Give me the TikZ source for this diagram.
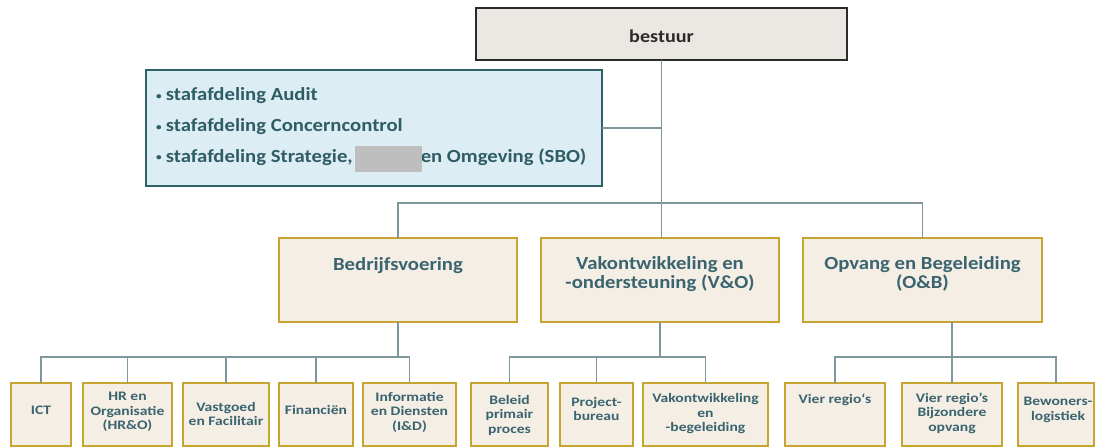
\documentclass[tikz,border=0pt]{standalone}
\usepackage{fontspec}
\setmainfont{Carlito}[FakeStretch=1.12, BoldFeatures={FakeStretch=1.12}]
\newfontfamily\widefont{Carlito}[FakeStretch=1.2, BoldFeatures={FakeStretch=1.2}]
\definecolor{bestuurfill}{HTML}{EBE7E3}
\definecolor{bestuurline}{HTML}{2B2B2B}
\definecolor{staffill}{HTML}{DCEDF3}
\definecolor{stafline}{HTML}{2F6266}
\definecolor{unitfill}{HTML}{F4EEE4}
\definecolor{unitline}{HTML}{C8A430}
\definecolor{connline}{HTML}{7E979C}
\definecolor{unittext}{HTML}{3A6470}
\definecolor{staftext}{HTML}{2F5D66}
\definecolor{redact}{HTML}{BEBEBE}
\newcommand{\smallbul}{\raisebox{1.8pt}{\fontsize{10}{10}\selectfont\textbullet}\hspace{4pt}}
\begin{document}
\begin{tikzpicture}[x=1pt,y=-1pt,
  bestuurbox/.style={draw=bestuurline, line width=2.2pt, fill=bestuurfill, inner sep=0pt, outer sep=0pt},
  stafbox/.style={draw=stafline, line width=2pt, fill=staffill, inner sep=0pt, outer sep=0pt},
  unitbox/.style={draw=unitline, line width=2pt, fill=unitfill, inner sep=0pt, outer sep=0pt},
  midtext/.style={text=unittext, font=\fontsize{18.5}{19}\selectfont\bfseries, align=center, inner sep=0pt},
  smalltext/.style={text=unittext, font=\widefont\fontsize{13}{14.5}\selectfont\bfseries, align=center, inner sep=0pt},
  staftxt/.style={text=staftext, font=\fontsize{18.5}{20}\selectfont\bfseries, anchor=west, inner sep=0pt},
  conn/.style={draw=connline, line width=1.5pt}]
\useasboundingbox (0,0) rectangle (1096,447);
\fill[white] (0,0) rectangle (1096,447);

% top
\node[bestuurbox, minimum width=371pt, minimum height=52pt] (bestuur) at (661.5,34) {};
\node[text=bestuurline, font=\fontsize{18}{20}\selectfont\bfseries, inner sep=0pt] (bestuurt) at (661.5,36) {bestuur};

\node[stafbox, minimum width=456pt, minimum height=116pt] (staf) at (374,128) {};
\node[staftxt] (staf1) at (156,96) {\smallbul stafafdeling Audit};
\node[staftxt] (staf2) at (156,127) {\smallbul stafafdeling Concerncontrol};
\node[staftxt] (staf3) at (156,157) {\smallbul stafafdeling Strategie,\hspace{68pt}en Omgeving (SBO)};
\fill[redact] (355,146) rectangle (422,172);

% middle level
\node[unitbox, minimum width=238pt, minimum height=84pt] (bedr) at (398,280) {};
\node[unitbox, minimum width=238pt, minimum height=84pt] (vo) at (660,280) {};
\node[unitbox, minimum width=239pt, minimum height=84pt] (ob) at (922.5,280) {};
\node[midtext] (bedrt) at (398,266) {Bedrijfsvoering};
\node[midtext] (vot) at (660,274) {Vakontwikkeling en\\-ondersteuning (V\&O)};
\node[midtext] (obt) at (922.5,274) {Opvang en Begeleiding\\(O\&B)};

% bottom level
\node[unitbox, minimum width=60pt, minimum height=63pt] (ict) at (41,414.5) {};
\node[unitbox, minimum width=89pt, minimum height=63pt] (hr) at (127.5,414.5) {};
\node[unitbox, minimum width=86pt, minimum height=63pt] (vast) at (226,414.5) {};
\node[unitbox, minimum width=74pt, minimum height=63pt] (fin) at (316,414.5) {};
\node[unitbox, minimum width=93pt, minimum height=63pt] (info) at (409.5,414.5) {};
\node[unitbox, minimum width=77pt, minimum height=63pt] (bel) at (509.5,414.5) {};
\node[unitbox, minimum width=73pt, minimum height=63pt] (proj) at (596.5,414.5) {};
\node[unitbox, minimum width=125pt, minimum height=63pt] (vak) at (705.5,414.5) {};
\node[unitbox, minimum width=100pt, minimum height=63pt] (vier) at (835,414.5) {};
\node[unitbox, minimum width=100pt, minimum height=63pt] (bijz) at (952,414.5) {};
\node[unitbox, minimum width=76pt, minimum height=63pt] (bew) at (1056,414.5) {};

\node[smalltext] (ictt) at (41,410) {ICT};
\node[smalltext] (hrt) at (127.5,412) {HR en\\Organisatie\\(HR\&O)};
\node[smalltext] (vastt) at (226,414) {Vastgoed\\en Facilitair};
\node[smalltext] (fint) at (316,410) {Financiën};
\node[smalltext] (infot) at (409.5,412) {Informatie\\en Diensten\\(I\&D)};
\node[smalltext] (belt) at (509.5,415) {Beleid\\primair\\proces};
\node[smalltext] (projt) at (596.5,409) {Project-\\bureau};
\node[smalltext] (vakt) at (705.5,414) {Vakontwikkeling\\en\\-begeleiding};
\node[smalltext] (viert) at (835,400) {Vier regio‘s};
\node[smalltext] (bijzt) at (952,413) {Vier regio’s\\Bijzondere\\opvang};
\node[smalltext] (bewt) at (1058,410) {Bewoners-\\logistiek};

% connectors
\coordinate (bus1) at (661,203);
\coordinate (bus2) at (0,357);
\draw[conn] (bestuur.south) -- (bestuur.south |- vo.north);
\draw[conn] (staf.east) -- (staf.east -| bestuur.south);
\draw[conn] (bedr.north) -- (bedr.north |- bus1) -| (ob.north);

\draw[conn] (bedr.south) -- (bedr.south |- bus2);
\draw[conn] (ict.north) -- (ict.north |- bus2) -| (info.north);
\draw[conn] (hr.north) -- (hr.north |- bus2);
\draw[conn] (vast.north) -- (vast.north |- bus2);
\draw[conn] (fin.north) -- (fin.north |- bus2);

\draw[conn] (vo.south) -- (vo.south |- bus2);
\draw[conn] (bel.north) -- (bel.north |- bus2) -| (vak.north);
\draw[conn] (proj.north) -- (proj.north |- bus2);

\draw[conn] (bijz.north) -- (bijz.north |- ob.south);
\draw[conn] (vier.north) -- (vier.north |- bus2) -| (bew.north);
\end{tikzpicture}
\end{document}
